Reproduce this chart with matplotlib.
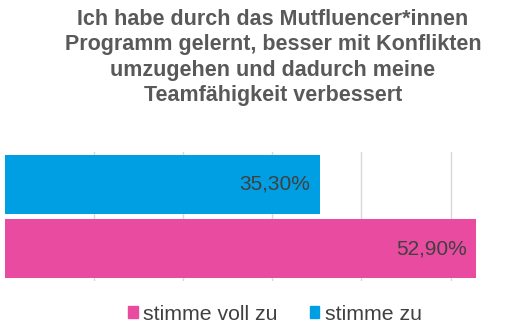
import matplotlib.pyplot as plt
import matplotlib.patches as mpatches

plt.rcParams['font.family'] = ['Liberation Sans', 'DejaVu Sans']

title = ("Ich habe durch das Mutfluencer*innen\n"
         "Programm gelernt, besser mit Konflikten\n"
         "umzugehen und dadurch meine\n"
         "Teamfähigkeit verbessert")
series = ["stimme voll zu", "stimme zu"]
values = [0.529, 0.353]
labels = ["52,90%", "35,30%"]
colors = ["#E84BA0", "#009FE3"]

fig = plt.figure(figsize=(5.3, 3.33), dpi=100)
W, H = 530, 333
ax = fig.add_axes([5 / W, 1 - 281 / H, (520 - 5) / W, 129 / H])

for i, (v, c, lab) in enumerate(zip(values, colors, labels)):
    ax.barh(i, v, height=0.91, color=c, zorder=2)
    ax.text(v - 0.011, i, lab, ha='right', va='center', fontsize=15,
            color='#404040', zorder=3)

ax.set_xlim(0, (520 - 5) / 891)
ax.set_ylim(-0.5, 1.5)
ax.set_xticks([0.1, 0.2, 0.3, 0.4, 0.5])
ax.xaxis.grid(True, color='#D9D9D9', linewidth=1, zorder=0)
ax.tick_params(left=False, bottom=False, labelleft=False, labelbottom=False)
for s in ax.spines.values():
    s.set_visible(False)

fig.text(273 / W, 1 - 9 / H, title, ha='center', va='top', fontsize=15.5,
         fontweight='bold', color='#595959', linespacing=1.27)

handles = [mpatches.Patch(color=c, label=s) for s, c in zip(series, colors)]
fig.legend(handles=handles, loc='center', bbox_to_anchor=(275 / W, 1 - 314 / H),
           ncol=2, frameon=False, fontsize=15.3, handlelength=0.45, handleheight=0.45,
           handletextpad=0.25, columnspacing=1.5, labelcolor='#404040')

fig.savefig('out.png', dpi=100)
